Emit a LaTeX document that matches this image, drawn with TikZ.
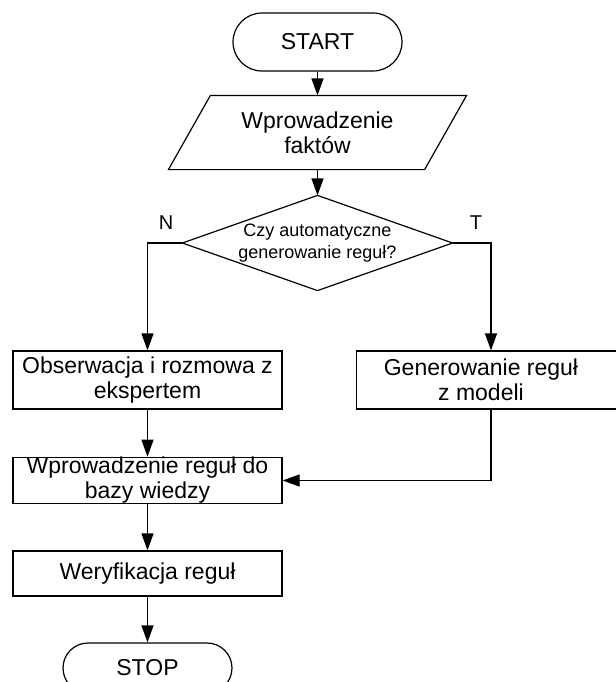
\documentclass[tikz,border=0pt]{standalone}
\usepackage{fontspec}
\setmainfont{Liberation Sans}
\usetikzlibrary{arrows.meta,shapes.misc}
\begin{document}
\begin{tikzpicture}[x=0.5pt,y=-0.5pt,
  line width=0.6pt,
  every node/.style={font=\fontsize{11.5pt}{12.5pt}\selectfont, inner sep=0pt},
  term/.style={rounded rectangle, draw, minimum width=84.5pt, minimum height=29pt},
  procbox/.style={rectangle, draw, minimum width=134.5pt, minimum height=29pt, align=center},
  lowbox/.style={rectangle, draw, minimum width=134.5pt, minimum height=22.5pt, align=center},
  conn/.style={-{Triangle[length=8.5pt,width=6pt]}},
  small/.style={font=\fontsize{9pt}{11pt}\selectfont, align=center},
  lbl/.style={font=\fontsize{10pt}{12pt}\selectfont}
]
\useasboundingbox (0,0) rectangle (616,682);
\clip (0,0) rectangle (616,682);
\fill[white] (0,0) rectangle (616,682);

% START
\node[term] (start) at (317.5,42) {START};

% input parallelogram
\node[rectangle, minimum width=127.5pt, minimum height=36.5pt, align=center] (facts) at (317.5,132.5) {Wprowadzenie\\faktów};
\draw ([xshift=10.5pt]facts.north west) -- ([xshift=10.5pt]facts.north east)
   -- ([xshift=-10.5pt]facts.south east) -- ([xshift=-10.5pt]facts.south west) -- cycle;

% decision
\node[rectangle, minimum width=134.5pt, minimum height=47pt, small] (dec) at (317.5,243) {Czy automatyczne\\generowanie reguł?};
\draw (dec.north) -- (dec.east) -- (dec.south) -- (dec.west) -- cycle;

\node[lbl] (nlab) at (166,223) {N};
\node[lbl] (tlab) at (476,223) {T};

% boxes
\node[procbox] (obs) at (147.5,380) {Obserwacja i rozmowa z\\ekspertem};
\node[procbox] (gen) at (491,380) {\hspace*{-10pt}Generowanie reguł\\\hspace*{-10pt}z modeli};
\node[lowbox] (ins) at (147.5,480.5) {Wprowadzenie reguł do\\bazy wiedzy};
\node[lowbox] (ver) at (147.5,573.5) {Weryfikacja reguł};
\node[term, minimum height=25pt] (stop) at (147.5,668) {STOP};

% connectors
\draw[conn] (start.south) -- (facts.north);
\draw[conn] (facts.south) -- (dec.north);
\draw[conn] (dec.west) -| (obs.north);
\draw[conn] (dec.east) -| (gen.north);
\draw[conn] (obs.south) -- (ins.north);
\draw[conn] (gen.south) |- (ins.east);
\draw[conn] (ins.south) -- (ver.north);
\draw[conn] (ver.south) -- (stop.north);
\end{tikzpicture}
\end{document}
